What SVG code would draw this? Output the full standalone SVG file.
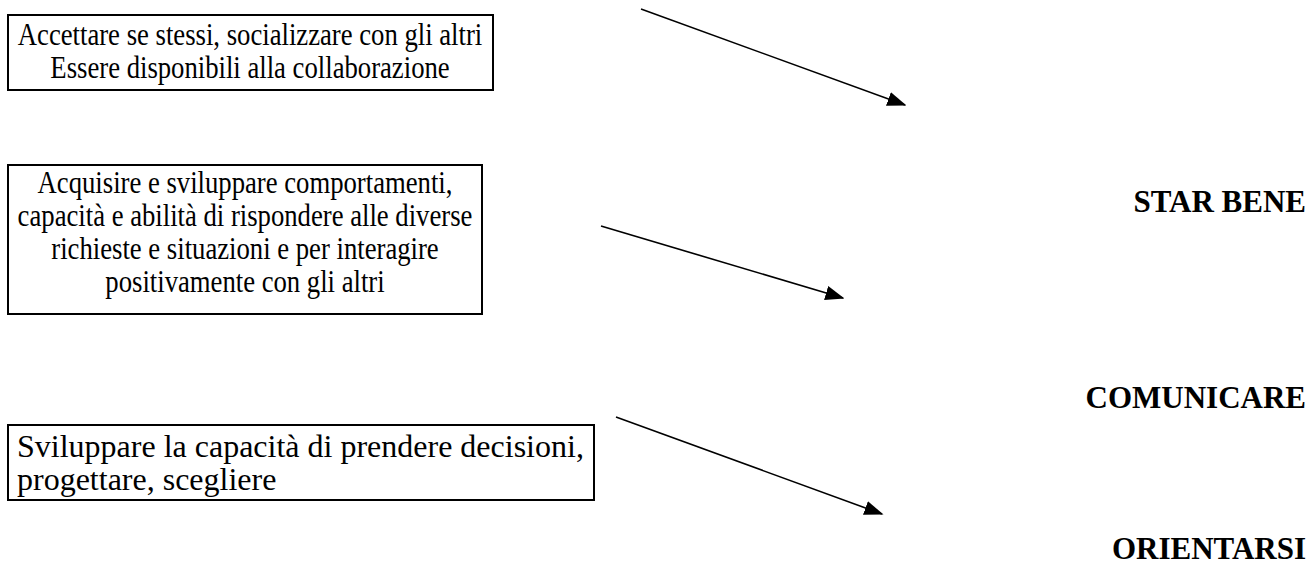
<svg xmlns="http://www.w3.org/2000/svg" width="1315" height="569" viewBox="0 0 1315 569">
<defs>
<style>
.box{fill:#fff;stroke:#000;stroke-width:2}
.t{font-family:"Liberation Serif","Times New Roman",serif;font-size:32px;fill:#000;text-anchor:middle}
.t3{font-family:"Liberation Serif","Times New Roman",serif;font-size:32px;fill:#000}
.lbl{font-family:"Liberation Serif","Times New Roman",serif;font-size:31px;font-weight:bold;fill:#000;text-anchor:end}
.arr{stroke:#000;stroke-width:1.6;fill:none;marker-end:url(#ah)}
</style>
<marker id="ah" markerWidth="12" markerHeight="9" refX="11" refY="4.5" orient="auto" markerUnits="strokeWidth">
<path d="M0,0 L12,4.5 L0,9 Z" fill="#000"/>
</marker>
</defs>
<rect width="1315" height="569" fill="#fff"/>
<g id="node1">
<rect class="box" x="8" y="15" width="485" height="75"/>
<g transform="translate(250,0) scale(0.834,1)">
<text class="t" x="0" y="45">Accettare se stessi, socializzare con gli altri</text>
<text class="t" x="0" y="78">Essere disponibili alla collaborazione</text>
</g>
</g>
<g id="node2">
<rect class="box" x="8" y="165" width="474" height="149"/>
<g transform="translate(245,0) scale(0.834,1)">
<text class="t" x="0" y="193">Acquisire e sviluppare comportamenti,</text>
<text class="t" x="0" y="226">capacità e abilità di rispondere alle diverse</text>
<text class="t" x="0" y="259">richieste e situazioni e per interagire</text>
<text class="t" x="0" y="292">positivamente con gli altri</text>
</g>
</g>
<g id="node3">
<rect class="box" x="8" y="425" width="586" height="75"/>
<text class="t3" x="17" y="457">Sviluppare la capacità di prendere decisioni,</text>
<text class="t3" x="17" y="490">progettare, scegliere</text>
</g>
<g id="star">
<text class="lbl" x="1306" y="212">STAR BENE</text>
</g>
<g id="comunicare">
<text class="lbl" x="1306" y="408">COMUNICARE</text>
</g>
<g id="orientarsi">
<text class="lbl" x="1306" y="559">ORIENTARSI</text>
</g>
<g id="connectors">
<line class="arr" x1="641" y1="9" x2="905" y2="105"/>
<line class="arr" x1="601" y1="226" x2="843" y2="298"/>
<line class="arr" x1="616" y1="417" x2="882" y2="514"/>
</g>
</svg>
